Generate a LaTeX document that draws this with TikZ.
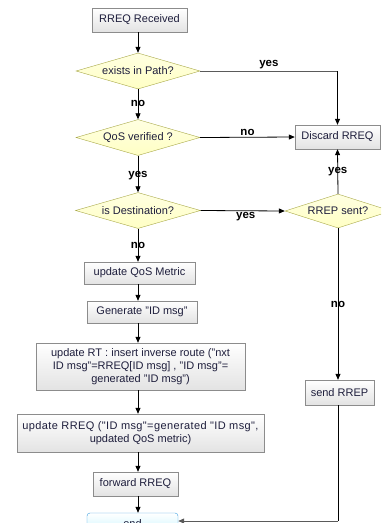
\documentclass[tikz,border=0pt]{standalone}
\usepackage{fontspec}
\setmainfont{Liberation Sans}
\newfontfamily\widefont[LetterSpace=3.5]{Liberation Sans}
\usetikzlibrary{arrows.meta,shapes.geometric}
\definecolor{boxline}{HTML}{8C8C8C}
\definecolor{dline}{HTML}{A8A848}
\definecolor{dfill}{HTML}{FFFFC4}
\definecolor{endline}{HTML}{3C9FE0}
\definecolor{endfill}{HTML}{C8F4FF}
\definecolor{txt}{HTML}{1E1E3C}
\definecolor{hline}{HTML}{5A5A5A}
\tikzset{
  box/.style={draw=boxline, top color=white, bottom color=gray!22, inner sep=0pt,
    font=\fontsize{11}{13}\selectfont, text=txt, align=center},
  dec/.style={diamond, aspect=4, draw=dline, top color=dfill!50!white, bottom color=dfill,
    inner sep=0pt, font=\fontsize{11}{13}\selectfont, text=txt},
  endbox/.style={draw=endline, top color=white, bottom color=endfill, rounded corners=3pt,
    inner sep=0pt, font=\fontsize{11}{13}\selectfont, text=txt},
  lab/.style={font=\bfseries\fontsize{11.5}{13}\selectfont, text=black, inner sep=1.5pt},
  arr/.style={draw=black, line width=0.8pt, -{Triangle[length=6pt,width=5pt]}},
  plain/.style={draw=hline, line width=0.8pt},
}
\begin{document}
\begin{tikzpicture}[x=1pt,y=-1pt]
\useasboundingbox (0,0) rectangle (381,523);
\clip (0,0) rectangle (381,523);
\node[box, minimum width=95pt, minimum height=24pt] (recv) at (139.5,20) {RREQ Received};
\node[dec, minimum width=124pt, minimum height=36pt] (d1) at (138,71) {exists in Path?};
\node[dec, minimum width=124pt, minimum height=36pt] (d2) at (138,137.5) {QoS verified ?};
\node[dec, minimum width=125pt, minimum height=36pt] (d3) at (138,210.5) {is Destination?};
\node[box, minimum width=111pt, minimum height=22pt] (qos) at (139.5,273) {update QoS Metric};
\node[box, minimum width=110pt, minimum height=22pt] (gen) at (142,312) {Generate "ID msg"};
\node[box, minimum width=209pt, minimum height=47pt] (rt) at (140.5,366.5) {update RT : insert inverse route ("nxt\\ID msg"=RREQ[ID msg] , "ID msg"=\\generated "ID msg")};
\node[box, minimum width=247pt, minimum height=38pt] (rreq) at (140.5,433) {{\widefont update RREQ ("ID msg"=generated "ID msg",}\\updated QoS metric)};
\node[box, minimum width=85pt, minimum height=24pt] (fwd) at (135.5,484) {forward RREQ};
\node[endbox, minimum width=91pt, minimum height=22pt] (endn) at (132.5,524) {end};
\node[box, minimum width=85pt, minimum height=24pt] (disc) at (337.5,137) {Discard RREQ};
\node[dec, minimum width=106pt, minimum height=34pt] (sent) at (338,211) {RREP sent?};
\node[box, minimum width=69pt, minimum height=25pt] (send) at (339.5,392.5) {send RREP};
\coordinate (col) at (138,0);
\coordinate (c1) at (d1.east -| disc.north);
\coordinate (c2) at (send.south |- endn.east);
% main column
\draw[arr] (recv.south -| col) -- (d1.north);
\draw[arr] (d1.south) -- (d2.north) node[lab, midway, yshift=1pt] {no};
\draw[arr] (d2.south) -- (d3.north) node[lab, midway, yshift=-2pt] {yes};
\draw[arr] (d3.south) -- (d3.south |- qos.north) node[lab, midway] {no};
\draw[arr] (qos.south -| col) -- (gen.north -| col);
\draw[arr] (gen.south -| col) -- (rt.north -| col);
\draw[arr] (rt.south -| col) -- (rreq.north -| col);
\draw[arr] (rreq.south -| col) -- (fwd.north -| col);
\draw[arr] (fwd.south -| col) -- (endn.north -| col);
% right side
\draw[plain] (d1.east) -- (c1) node[lab, midway, above] {yes};
\draw[arr] (c1) -- (disc.north);
\draw[arr] (d2.east) -- (disc.west) node[lab, midway, above] {no};
\draw[arr] (d3.east) -- (sent.west) node[lab, midway, below, xshift=3pt] {yes};
\draw[arr] (sent.north) -- (disc.south) node[lab, midway] {yes};
\draw[arr] (sent.south) -- (sent.south |- send.north) node[lab, midway] {no};
\draw[draw=black, line width=0.8pt] (send.south -| sent.south) -- ([yshift=3pt]c2 -| sent.south);
\draw[plain, -{Triangle[length=6pt,width=5pt]}] ([yshift=3pt]c2 -| sent.south) -- ([yshift=3pt]endn.east);
\end{tikzpicture}
\end{document}
